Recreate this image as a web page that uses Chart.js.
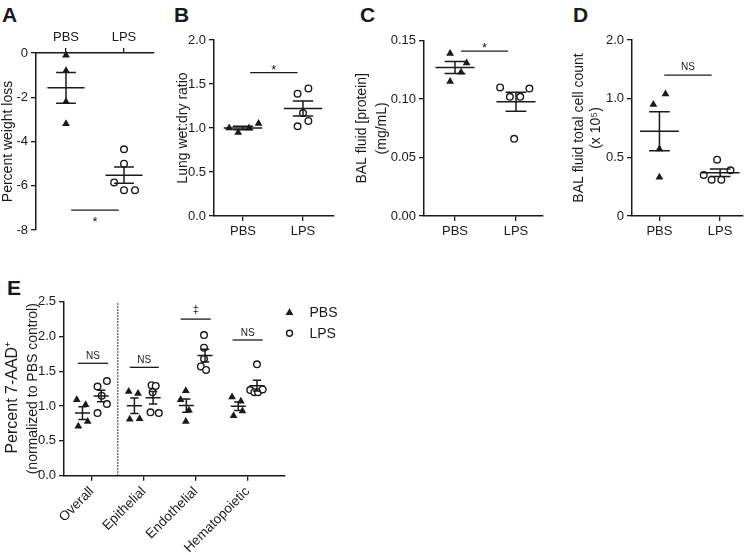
<!DOCTYPE html>
<html><head><meta charset="utf-8">
<script src="https://cdn.jsdelivr.net/npm/chart.js@4.4.1/dist/chart.umd.min.js"></script>
<style>
html,body{margin:0;padding:0;background:#fff;}
body{width:748px;height:555px;position:relative;overflow:hidden;font-family:"Liberation Sans",Arial,Helvetica,sans-serif;}
.pl{position:absolute;font-weight:bold;font-size:21px;line-height:21px;color:#1a1a1a;}
canvas{position:absolute;}
</style></head><body>
<div class="pl" style="left:2px;top:4px">A</div>
<div class="pl" style="left:174px;top:4px">B</div>
<div class="pl" style="left:360px;top:4px">C</div>
<div class="pl" style="left:573px;top:4px">D</div>
<div class="pl" style="left:7px;top:277px">E</div>
<canvas id="cA" width="170" height="250" style="left:0;top:0"></canvas>
<canvas id="cB" width="180" height="250" style="left:172px;top:0"></canvas>
<canvas id="cC" width="200" height="250" style="left:350px;top:0"></canvas>
<canvas id="cD" width="186" height="250" style="left:562px;top:0"></canvas>
<canvas id="cE" width="360" height="285" style="left:0;top:270px"></canvas>
<script>
// ---------------- DATA ----------------
const groups = ['PBS', 'LPS'];

// Panel A: percent weight loss
const aPBS = [-0.1, -0.8, -2.2, -3.2];
const aPBSjit = [0, 0, 0, 0];
const aLPS = [-4.35, -5.0, -5.85, -6.2, -6.2];
const aLPSjit = [0, 0, -0.17, 0, 0.19];
const aYTicks = [0, -2, -4, -6, -8];
const aYLabels = ['0', '-2', '-4', '-6', '-8'];

// Panel B: lung wet:dry ratio
const bPBS = [1.00, 0.95, 1.00, 1.05];
const bPBSjit = [-0.23, -0.08, 0.10, 0.26];
const bLPS = [1.39, 1.45, 1.17, 1.08, 1.02];
const bLPSjit = [-0.09, 0.09, 0, 0.09, -0.09];
const bYTicks = [0, 0.5, 1, 1.5, 2];
const bYLabels = ['0.0', '0.5', '1.0', '1.5', '2.0'];

// Panel C: BAL fluid protein (mg/mL)
const cPBS = [0.139, 0.131, 0.123, 0.115];
const cPBSjit = [-0.08, 0.19, 0.10, -0.08];
const cLPS = [0.110, 0.102, 0.102, 0.109, 0.066];
const cLPSjit = [-0.26, -0.10, 0.07, 0.22, -0.03];
const cYTicks = [0, 0.05, 0.10, 0.15];
const cYLabels = ['0.00', '0.05', '0.10', '0.15'];

// Panel D: BAL total cell count (x 10^5), segmented axis (top tick reads 2.0)
const dPBS = [1.04, 0.95, 0.57, 0.33];
const dPBSjit = [0.10, -0.10, 0, 0];
const dLPS = [0.48, 0.35, 0.31, 0.31, 0.39];
const dLPSjit = [-0.05, -0.27, -0.14, 0.02, 0.17];
const dYTicks = [0, 0.5, 1.0, 1.5];
const dYLabels = ['0', '0.5', '1.0', '2.0'];

// Panel E: percent 7-AAD+ normalized
const eCats = ['Overall', 'Epithelial', 'Endothelial', 'Hematopoietic'];
const ePBS = [[1.09, 1.02, 0.71, 0.78], [1.21, 1.18, 0.81, 0.82], [1.22, 1.09, 0.94, 0.78], [1.13, 1.07, 0.93, 0.86]];
const ePBSjit = [[-0.29, -0.12, -0.26, -0.08], [-0.29, -0.11, -0.27, -0.08], [-0.19, -0.29, -0.13, -0.19], [-0.30, -0.13, -0.10, -0.27]];
const eLPS = [[1.36, 1.28, 1.15, 1.03, 0.90], [1.30, 1.29, 1.20, 0.91, 0.90], [2.02, 1.84, 1.68, 1.57, 1.52], [1.60, 1.23, 1.20, 1.20, 1.24]];
const eLPSjit = [[0.29, 0.11, 0.19, 0.29, 0.11], [0.15, 0.23, 0.17, 0.13, 0.29], [0.16, 0.16, 0.16, 0.10, 0.20], [0.18, 0.05, 0.13, 0.20, 0.29]];
const eYTicks = [0, 0.5, 1.0, 1.5, 2.0, 2.5];
const eYLabels = ['0.0', '0.5', '1.0', '1.5', '2.0', '2.5'];
const eTitleMain = 'Percent 7-AAD\u207A';
const eTitleSub = '(normalized to PBS control)';

// significance annotations: [x1, x2, y, text]
const aSig = [[0.09, 0.91, -7.1, '*']];
const bSig = [[0.12, 0.91, 1.63, '*']];
const cSig = [[0.10, 0.87, 0.141, '*']];
const dSig = [[0.08, 0.86, 1.20, 'NS']];
const eSig = [[-0.27, 0.31, 1.615, 'NS'], [-0.27, 0.29, 1.557, 'NS'], [-0.29, 0.29, 2.25, '\u2021'], [-0.29, 0.29, 1.95, 'NS']];

// ---------------- DRAWING ----------------
const INK = '#1a1a1a';
const FONT = '"Liberation Sans", Arial, Helvetica, sans-serif';
Chart.defaults.font.family = FONT;
Chart.defaults.color = INK;

function meanSem(arr) {
  const n = arr.length;
  const m = arr.reduce((a, b) => a + b, 0) / n;
  const sd = Math.sqrt(arr.reduce((a, b) => a + (b - m) * (b - m), 0) / (n - 1));
  return [m, sd / Math.sqrt(n)];
}
function barData(c, arr, hw, cw) {
  const [m, s] = meanSem(arr);
  return [
    {x: c - hw, y: m}, {x: c + hw, y: m}, {x: c, y: null},
    {x: c - cw, y: m + s}, {x: c + cw, y: m + s}, {x: c, y: null},
    {x: c, y: m + s}, {x: c, y: m - s}, {x: c, y: null},
    {x: c - cw, y: m - s}, {x: c + cw, y: m - s}
  ];
}
function pts(c, arr, jit) { return arr.map((v, i) => ({x: c + jit[i], y: v})); }

function lineSet(data, w, dash) {
  return {type: 'scatter', data, showLine: true, borderColor: INK, borderWidth: w, borderDash: dash || [],
    pointRadius: 0, fill: false, spanGaps: false, clip: false, order: 0};
}
function markerSet(kind, data) {
  if (kind === 'tri') return {data, pointStyle: 'triangle', pointRadius: 4.5, backgroundColor: INK, borderColor: INK, borderWidth: 0, showLine: false, clip: false, order: 2};
  return {data, pointStyle: 'circle', pointRadius: 3.3, backgroundColor: '#fff', borderColor: INK, borderWidth: 1.4, showLine: false, clip: false, order: 1};
}

const sigTextPlugin = {
  id: 'sigText',
  afterDatasetsDraw(chart, args, opts) {
    const {ctx, scales: {x, y}} = chart;
    (opts.items || []).forEach(it => {
      ctx.save();
      ctx.font = it.size + 'px ' + FONT;
      ctx.fillStyle = INK;
      ctx.textAlign = 'center';
      ctx.textBaseline = 'alphabetic';
      ctx.fillText(it.text, x.getPixelForValue(it.xc), y.getPixelForValue(it.y) + it.dy);
      ctx.restore();
    });
  }
};

// first (larger) line of a two-line y-axis title
const mainTitlePlugin = {
  id: 'mainTitle',
  afterDraw(chart, args, opts) {
    if (!opts.text) return;
    const ctx = chart.ctx, a = chart.chartArea;
    ctx.save();
    ctx.translate(opts.x, (a.top + a.bottom) / 2 + opts.dy);
    ctx.rotate(-Math.PI / 2);
    ctx.font = opts.size + 'px ' + FONT;
    ctx.fillStyle = INK; ctx.textAlign = 'center'; ctx.textBaseline = 'middle';
    ctx.fillText(opts.text, 0, 0);
    ctx.restore();
  }
};

const legendPlugin = {
  id: 'eLegend',
  afterDraw(chart, args, opts) {
    if (!opts.items) return;
    const ctx = chart.ctx, a = chart.chartArea;
    opts.items.forEach((it, i) => {
      const cx = a.right + 4.5, cy = a.top + 11 + i * 20.5;
      ctx.save();
      ctx.fillStyle = INK; ctx.strokeStyle = INK;
      if (it.kind === 'tri') {
        const r = 4.5;
        ctx.beginPath();
        ctx.moveTo(cx, cy - r);
        ctx.lineTo(cx + r * 0.866, cy + r / 2);
        ctx.lineTo(cx - r * 0.866, cy + r / 2);
        ctx.closePath(); ctx.fill();
      } else {
        ctx.lineWidth = 1.4;
        ctx.beginPath(); ctx.arc(cx, cy, 3.0, 0, Math.PI * 2);
        ctx.fillStyle = '#fff'; ctx.fill(); ctx.stroke();
      }
      ctx.fillStyle = INK;
      ctx.font = '14px ' + FONT;
      ctx.textAlign = 'left'; ctx.textBaseline = 'middle';
      ctx.fillText(it.label, cx + 20, cy + 0.5);
      ctx.restore();
    });
  }
};

function makeChart(id, c) {
  const datasets = [];
  c.groups.forEach(g => {
    datasets.push(markerSet(g.kind, pts(g.pos + g.jitBase, g.vals, g.jit)));
    datasets.push(lineSet(barData(g.pos + g.jitBase, g.vals, c.meanHW, c.capHW), 1.5));
  });
  const sigItems = [];
  c.sig.forEach(s => {
    const off = s.base || 0;
    datasets.push(lineSet([{x: off + s.v[0], y: s.v[2]}, {x: off + s.v[1], y: s.v[2]}], 1.3));
    sigItems.push({xc: off + (s.v[0] + s.v[1]) / 2, y: s.v[2], text: s.v[3], size: s.size, dy: s.dy});
  });
  (c.extraLines || []).forEach(l => datasets.push(l));

  const tickGrid = {display: true, drawOnChartArea: false, drawTicks: true, tickLength: 5, color: INK, lineWidth: 1.3};
  return new Chart(document.getElementById(id), {
    type: 'scatter',
    data: {datasets},
    options: {
      responsive: false, animation: false, events: [],
      layout: {padding: {left: 0, top: c.padTop, right: c.padRight, bottom: c.padBottom}},
      plugins: {legend: {display: false}, tooltip: {enabled: false},
        sigText: {items: sigItems}, eLegend: {items: c.legendItems}, mainTitle: c.mainTitle || {}},
      scales: {
        x: {
          type: 'linear', position: c.xPos || 'bottom', min: c.xMin, max: c.xMax,
          afterBuildTicks: s => { s.ticks = c.xTicks.map(v => ({value: v})); },
          afterFit: s => { s.height = c.xHeight; },
          ticks: {callback: (v, i) => c.xLabels[i], font: {size: c.xFont || 13}, color: INK, padding: 3,
            minRotation: c.rot || 0, maxRotation: c.rot || 0, autoSkip: false},
          grid: tickGrid,
          border: {display: true, color: INK, width: 1.5}
        },
        y: {
          type: 'linear', min: c.yMin, max: c.yMax,
          afterBuildTicks: s => { s.ticks = c.yTicks.map(v => ({value: v})); },
          afterFit: s => { s.width = c.yWidth; },
          ticks: {callback: (v, i) => c.yLabels[i], font: {size: 13}, color: INK, padding: 3, autoSkip: false},
          grid: tickGrid,
          border: {display: true, color: INK, width: 1.5},
          title: {display: true, text: c.yTitle, color: INK, font: {size: 14, lineHeight: c.titleLH},
            padding: {top: c.titlePad, bottom: 0}}
        }
      }
    },
    plugins: [sigTextPlugin, legendPlugin, mainTitlePlugin]
  });
}

const AB = {meanHW: 0.32, capHW: 0.17};

makeChart('cA', Object.assign({}, AB, {
  xMin: -0.517, xMax: 1.517, xTicks: [0, 1], xLabels: groups, xPos: 'top',
  yMin: -8, yMax: 0, yTicks: aYTicks, yLabels: aYLabels,
  yTitle: 'Percent weight loss', titleLH: 1.2, titlePad: 0,
  yWidth: 36, xHeight: 53, padTop: 0, padRight: 16, padBottom: 20,
  groups: [{pos: 0, jitBase: 0, vals: aPBS, jit: aPBSjit, kind: 'tri'}, {pos: 1, jitBase: 0, vals: aLPS, jit: aLPSjit, kind: 'circ'}],
  sig: aSig.map(v => ({v, size: 13, dy: 15.5}))
}));

makeChart('cB', Object.assign({}, AB, {
  xMin: -0.483, xMax: 1.517, xTicks: [0, 1], xLabels: groups,
  yMin: 0, yMax: 2, yTicks: bYTicks, yLabels: bYLabels,
  yTitle: 'Lung wet:dry ratio', titleLH: 1.2, titlePad: 3,
  yWidth: 42, xHeight: 34, padTop: 40, padRight: 18, padBottom: 0,
  groups: [{pos: 0, jitBase: 0, vals: bPBS, jit: bPBSjit, kind: 'tri'}, {pos: 1, jitBase: 0, vals: bLPS, jit: bLPSjit, kind: 'circ'}],
  sig: bSig.map(v => ({v, size: 13, dy: 1.5}))
}));

makeChart('cC', Object.assign({}, AB, {
  xMin: -0.508, xMax: 1.443, xTicks: [0, 1], xLabels: groups,
  yMin: 0, yMax: 0.15, yTicks: cYTicks, yLabels: cYLabels,
  yTitle: ['BAL fluid [protein]', '(mg/mL)'], titleLH: 1.43, titlePad: 2.5,
  yWidth: 74, xHeight: 34, padTop: 40.7, padRight: 7, padBottom: 0,
  groups: [{pos: 0, jitBase: 0, vals: cPBS, jit: cPBSjit, kind: 'tri'}, {pos: 1, jitBase: 0, vals: cLPS, jit: cLPSjit, kind: 'circ'}],
  sig: cSig.map(v => ({v, size: 13, dy: 1}))
}));

makeChart('cD', Object.assign({}, AB, {
  xMin: -0.452, xMax: 1.37, xTicks: [0, 1], xLabels: groups,
  yMin: 0, yMax: 1.5, yTicks: dYTicks, yLabels: dYLabels,
  yTitle: ['BAL fluid total cell count', '(x 10\u2075)'], titleLH: 1.2, titlePad: 8.5,
  yWidth: 70, xHeight: 34, padTop: 40, padRight: 3, padBottom: 0,
  groups: [{pos: 0, jitBase: 0, vals: dPBS, jit: dPBSjit, kind: 'tri'}, {pos: 1, jitBase: 0, vals: dLPS, jit: dLPSjit, kind: 'circ'}],
  sig: dSig.map(v => ({v, size: 10, dy: -5}))
}));

// Panel E: PBS sub-column centre at -0.18, LPS at +0.18 relative to the category tick
const eChartCfg = {
  meanHW: 0.145, capHW: 0.08,
  xMin: -0.536, xMax: 3.72, xTicks: [0, 1, 2, 3], xLabels: eCats, rot: 45, xFont: 13.5,
  yMin: 0, yMax: 2.5, yTicks: eYTicks, yLabels: eYLabels,
  yTitle: eTitleSub, titleLH: 1.2, titlePad: 24.6,
  mainTitle: {text: eTitleMain, size: 16, x: 12.5, dy: 9},
  yWidth: 64, xHeight: 79.3, padTop: 31.7, padRight: 75, padBottom: 0,
  groups: [],
  sig: eSig.map((v, i) => ({v, base: i, size: v[3] === '\u2021' ? 11 : 10, dy: v[3] === '\u2021' ? -6 : -4})),
  legendItems: [{label: groups[0], kind: 'tri'}, {label: groups[1], kind: 'circ'}],
  extraLines: [lineSet([{x: 0.5, y: 0}, {x: 0.5, y: 2.5}], 1.2, [1.5, 1.5])]
};
eCats.forEach((cat, i) => {
  eChartCfg.groups.push({pos: i, jitBase: -0.18, vals: ePBS[i], jit: ePBSjit[i].map(j => j + 0.18), kind: 'tri'});
  eChartCfg.groups.push({pos: i, jitBase: 0.18, vals: eLPS[i], jit: eLPSjit[i].map(j => j - 0.18), kind: 'circ'});
});
makeChart('cE', eChartCfg);
</script>
</body></html>
